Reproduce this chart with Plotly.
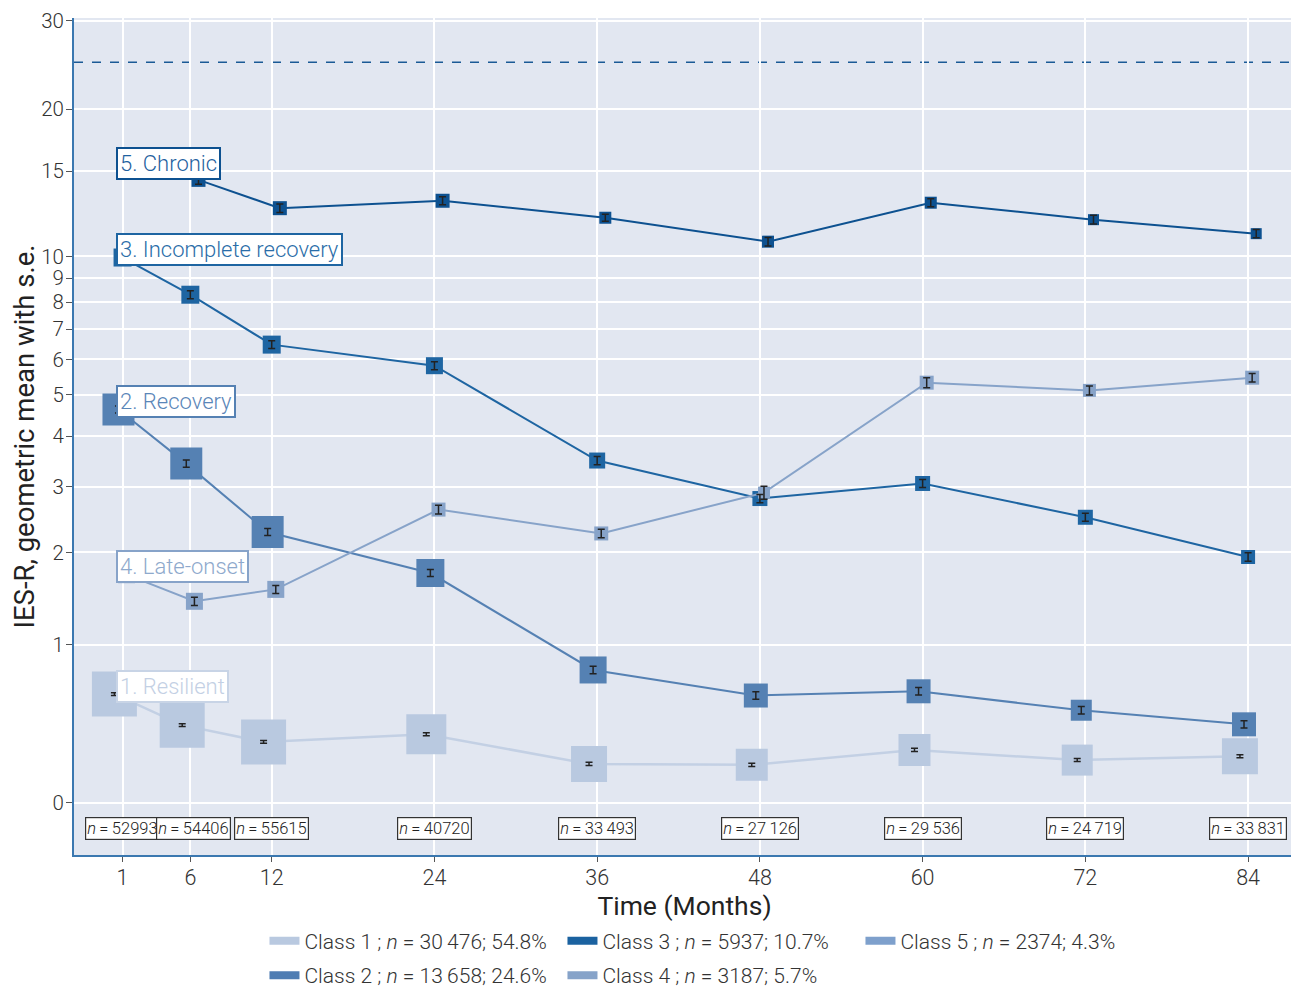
import numpy as np
import plotly.graph_objects as go

# ---------------- data ----------------
months = [1, 6, 12, 24, 36, 48, 60, 72, 84]
month_ticks = [1, 6, 12, 24, 36, 48, 60, 72, 84]
n_at_time = ["52993", "54406", "55615", "40720", "33\u2009493", "27\u2009126",
             "29\u2009536", "24\u2009719", "33\u2009831"]

class_names = ["1. Resilient", "2. Recovery", "3. Incomplete recovery",
               "4. Late-onset", "5. Chronic"]
legend_names = [
    "Class 1 ; <i>n</i> = 30\u2009476; 54.8%",
    "Class 2 ; <i>n</i> = 13\u2009658; 24.6%",
    "Class 3 ; <i>n</i> = 5937; 10.7%",
    "Class 4 ; <i>n</i> = 3187; 5.7%",
    "Class 5 ; <i>n</i> = 2374; 4.3%",
]

# geometric means (IES-R)
class1 = [0.61, 0.405, 0.305, 0.35, 0.185, 0.18, 0.26, 0.205, 0.225]
class2 = [4.62, 3.43, 2.28, 1.74, 0.79, 0.60, 0.63, 0.50, 0.41]
class3 = [9.95, 8.30, 6.47, 5.81, 3.49, 2.80, 3.06, 2.50, 1.94]
class4 = [1.72, 1.42, 1.55, 2.62, 2.26, 2.90, 5.32, 5.11, 5.46]
class5 = [15.0, 14.4, 12.6, 13.05, 12.04, 10.74, 12.93, 11.93, 11.16]

# standard errors
se1 = [0.010, 0.009, 0.008, 0.009, 0.008, 0.008, 0.009, 0.008, 0.008]
se2 = [0.087, 0.069, 0.050, 0.042, 0.030, 0.026, 0.027, 0.024, 0.023]
se3 = [0.19, 0.16, 0.13, 0.12, 0.08, 0.07, 0.072, 0.062, 0.055]
se4 = [0.05, 0.043, 0.045, 0.07, 0.06, 0.11, 0.14, 0.12, 0.12]
se5 = [0.30, 0.30, 0.25, 0.25, 0.20, 0.22, 0.25, 0.25, 0.22]

# marker sizes (scaled to class size at each time point)
size1 = [45, 45, 45, 40, 36, 32, 32, 31, 36]
size2 = [32, 32, 32, 28, 27, 24, 24, 21, 24]
size3 = [18, 18, 18, 17, 16, 15, 15, 15, 14]
size4 = [17, 17, 17, 14, 14, 12, 14, 13, 14]
size5 = [14, 14, 14, 14, 12, 12, 12, 11, 11]

cutoff = 24.8
y_ticks = [0, 1, 2, 3, 4, 5, 6, 7, 8, 9, 10, 15, 20, 30]

# ---------------- styling ----------------
means = [class1, class2, class3, class4, class5]
ses = [se1, se2, se3, se4, se5]
sizes = [size1, size2, size3, size4, size5]
marker_colors = ["#b9c9e0", "#5581b3", "#1e65a2", "#87a3c9", "#0d5190"]
line_colors = ["#c3d0e4", "#5581b3", "#1e65a2", "#87a3c9", "#0d5190"]
label_text_colors = ["#c3d0e4", "#5a86b8", "#2a6da8", "#8ea9cc", "#1f62a0"]
label_border_colors = ["#c8d4e6", "#5581b3", "#1e65a2", "#87a3c9", "#0d5190"]
legend_colors = ["#b9c9e0", "#4f7db3", "#1b62a0", "#86a3c9", "#7ea0cc"]
dodge = [-0.6, -0.3, 0.0, 0.3, 0.6]
n_label_xshift = [0, 3, 0, 0, 0, 0, 0, 0, 0]

FONT = "Roboto"


def tr(v):
    return np.log10(np.asarray(v, dtype=float) + 1.0)


fig = go.Figure()

# lines + markers
for i in range(5):
    x = np.asarray(months, dtype=float) + dodge[i]
    fig.add_trace(go.Scatter(
        x=x, y=tr(means[i]), mode="lines+markers",
        line=dict(color=line_colors[i], width=2.5 if i == 0 else 2),
        marker=dict(symbol="square", size=sizes[i], color=marker_colors[i],
                    opacity=1, line=dict(width=0)),
        showlegend=False, hoverinfo="skip",
    ))

# error bars on top
for i in range(5):
    x = np.asarray(months, dtype=float) + dodge[i]
    m = np.asarray(means[i]); s = np.asarray(ses[i])
    up = tr(m + s) - tr(m)
    lo = tr(m) - tr(m - s)
    fig.add_trace(go.Scatter(
        x=x, y=tr(m), mode="markers",
        marker=dict(size=1, opacity=0),
        error_y=dict(type="data", array=up, arrayminus=lo, symmetric=False,
                     color="#222222", thickness=1.5, width=3.5),
        showlegend=False, hoverinfo="skip",
    ))

# legend-only entries
legend_rows = {0: "legend", 2: "legend", 4: "legend", 1: "legend2", 3: "legend2"}
for i in [0, 2, 4, 1, 3]:
    fig.add_trace(go.Scatter(
        x=[None], y=[None], mode="lines",
        line=dict(color=legend_colors[i], width=8),
        name=legend_names[i], legend=legend_rows[i],
    ))

# cutoff line
fig.add_hline(y=float(tr(cutoff)), line=dict(color="#1a5a96", width=1.5, dash="dash"),
              layer="below")

# class labels
for i in range(5):
    fig.add_annotation(
        x=months[0], y=float(tr(means[i][0])), xref="x", yref="y",
        text=class_names[i], showarrow=False, xanchor="left", yanchor="middle",
        xshift=-7, yshift=8,
        font=dict(family=FONT, size=22, color=label_text_colors[i], weight=300),
        bgcolor="white", bordercolor=label_border_colors[i],
        borderwidth=2, borderpad=2,
    )

# n labels
for mth, nt, xs in zip(month_ticks, n_at_time, n_label_xshift):
    fig.add_annotation(
        x=mth, y=-0.049, xref="x", yref="y", xshift=xs,
        text="<i>n</i>\u2009=\u2009" + nt, showarrow=False,
        font=dict(family=FONT, size=16.5, color="#222222", weight=300),
        bgcolor="white", bordercolor="#333333", borderwidth=1.2, borderpad=1,
    )

# page body has an 8px margin, so the figure is drawn 8px smaller
fig.update_layout(
    width=1291, height=980,
    margin=dict(l=66, r=4, t=10, b=133, autoexpand=False),
    paper_bgcolor="white", plot_bgcolor="#e2e7f1",
    font=dict(family=FONT, color="#333333"),
    xaxis=dict(
        range=[-2.58, 87.46], tickvals=month_ticks,
        ticktext=[str(t) for t in month_ticks],
        showgrid=True, gridcolor="white", gridwidth=1.5,
        zeroline=False, showline=True, linecolor="#3b78b0", linewidth=2,
        ticks="outside", ticklen=5, tickcolor="#555555", automargin=False,
        ticklabelstandoff=-3,
        tickfont=dict(family=FONT, size=21.5, color="#333333", weight=300),
        title=dict(text="Time (Months)", standoff=1,
                   font=dict(family=FONT, size=26.5, color="#222222")),
    ),
    yaxis=dict(
        range=[-0.1, 1.4962], tickvals=[float(v) for v in tr(y_ticks)],
        ticktext=[str(v) for v in y_ticks],
        showgrid=True, gridcolor="white", gridwidth=1.5,
        zeroline=False, showline=True, linecolor="#3b78b0", linewidth=2,
        ticks="outside", ticklen=6, tickcolor="#555555", automargin=False,
        ticklabelstandoff=-2,
        tickfont=dict(family=FONT, size=20.5, color="#333333", weight=300),
        title=dict(text="IES-R, geometric mean with s.e.", standoff=12,
                   font=dict(family=FONT, size=27.5, color="#222222")),
    ),
    legend=dict(orientation="h", x=0.156, xanchor="left", y=-0.103, yanchor="middle",
                entrywidth=253, entrywidthmode="pixels",
                font=dict(family=FONT, size=21, color="#333333", weight=300),
                bgcolor="rgba(0,0,0,0)"),
    legend2=dict(orientation="h", x=0.156, xanchor="left", y=-0.144, yanchor="middle",
                 entrywidth=253, entrywidthmode="pixels",
                 font=dict(family=FONT, size=21, color="#333333", weight=300),
                 bgcolor="rgba(0,0,0,0)"),
)

fig.write_html("out.html")
